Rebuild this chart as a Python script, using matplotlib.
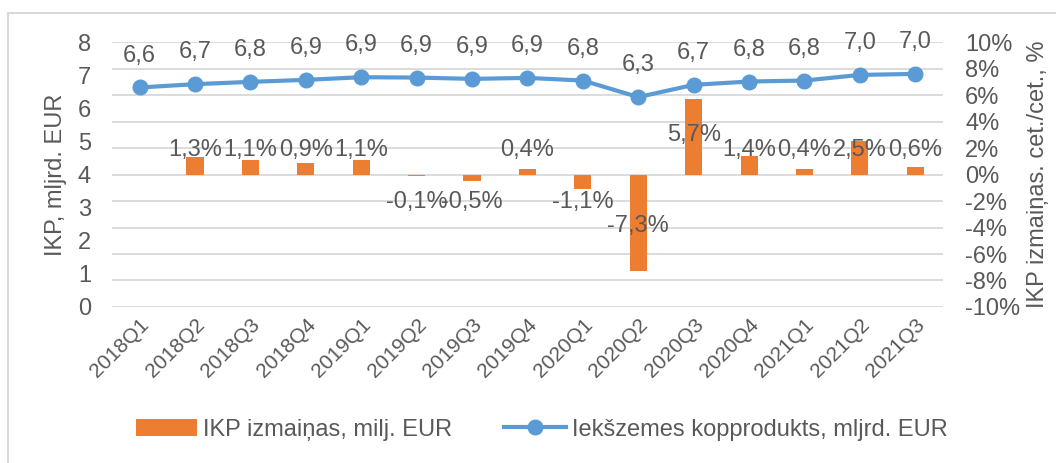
import matplotlib
matplotlib.use("Agg")
import matplotlib.pyplot as plt
import numpy as np
from matplotlib.patches import Rectangle

# ---------- DATA ----------
quarters = ["2018Q1", "2018Q2", "2018Q3", "2018Q4", "2019Q1", "2019Q2", "2019Q3", "2019Q4",
            "2020Q1", "2020Q2", "2020Q3", "2020Q4", "2021Q1", "2021Q2", "2021Q3"]
gdp = [6.63, 6.73, 6.80, 6.86, 6.94, 6.93, 6.89, 6.92, 6.84, 6.34, 6.71, 6.81, 6.84, 7.01, 7.04]
gdp_labels = ["6,6", "6,7", "6,8", "6,9", "6,9", "6,9", "6,9", "6,9",
              "6,8", "6,3", "6,7", "6,8", "6,8", "7,0", "7,0"]
change = [np.nan, 1.3, 1.1, 0.9, 1.1, -0.1, -0.5, 0.4, -1.1, -7.3, 5.7, 1.4, 0.4, 2.5, 0.6]
change_labels = ["", "1,3%", "1,1%", "0,9%", "1,1%", "-0,1%", "-0,5%", "0,4%",
                 "-1,1%", "-7,3%", "5,7%", "1,4%", "0,4%", "2,5%", "0,6%"]
# where the % labels sit on the right axis (as placed in the source chart)
change_label_y = [0, 1.85, 1.85, 1.85, 1.85, -2.05, -2.05, 1.85,
                  -2.05, -3.9, 3.0, 1.85, 1.85, 1.85, 1.85]

ORANGE = "#ED7D31"
BLUE = "#5B9BD5"
TXT = "#595959"
GRID = "#D9D9D9"
FS = 17

plt.rcParams["font.family"] = ["Liberation Sans", "DejaVu Sans"]
plt.rcParams["text.color"] = TXT

fig = plt.figure(figsize=(10.56, 4.63), dpi=100)
ax = fig.add_axes([0.106, 0.337, 0.787, 0.572])
ax2 = ax.twinx()

x = np.arange(len(quarters))

# bars on the right (%) axis
ax2.bar(x, change, width=0.31, color=ORANGE, zorder=2, label="IKP izmaiņas, milj. EUR")
ax2.set_ylim(-10, 10)
ax2.set_yticks(np.arange(-10, 11, 2))
ax2.set_yticklabels([f"{v}%" for v in range(-10, 11, 2)])
for xi, lab, ly in zip(x, change_labels, change_label_y):
    if lab:
        ax2.text(xi, ly, lab, ha="center", va="center", fontsize=FS, color=TXT, zorder=5)

# line on left axis, drawn above bars
ax.set_zorder(ax2.get_zorder() + 1)
ax.patch.set_visible(False)
ax.plot(x, gdp, color=BLUE, lw=3, marker="o", ms=10.5, zorder=3,
        label="Iekšzemes kopprodukts, mljrd. EUR")
for xi, v, lab in zip(x, gdp, gdp_labels):
    ax.annotate(lab, (xi, v), xytext=(0, 23), textcoords="offset points",
                ha="center", va="center", fontsize=FS, color=TXT)
ax.set_ylim(0, 8)
ax.set_yticks(range(0, 9))
ax.set_xlim(-0.5, len(quarters) - 0.5)
ax.set_xticks(x)
ax.set_xticklabels(quarters, rotation=45, ha="right", rotation_mode="anchor")

ax2.grid(axis="y", color=GRID, lw=1.3, zorder=0)
ax2.set_axisbelow(True)

for a in (ax, ax2):
    for s in a.spines.values():
        s.set_visible(False)
    a.tick_params(length=0, colors=TXT, labelsize=FS)
ax.tick_params(axis="x", labelsize=15, pad=6)
ax.tick_params(axis="y", pad=15)
ax2.tick_params(axis="y", pad=16)

ax.set_ylabel("IKP, mljrd. EUR", fontsize=FS, color=TXT, labelpad=8)
ax2.set_ylabel("IKP izmaiņas. cet./cet., %", fontsize=FS, color=TXT, labelpad=5)

h1, l1 = ax2.get_legend_handles_labels()
h2, l2 = ax.get_legend_handles_labels()
fig.legend(h1 + h2, l1 + l2, loc="center", bbox_to_anchor=(0.513, 0.072), ncol=2,
           frameon=False, fontsize=FS, handlelength=2.6, handletextpad=0.25,
           columnspacing=2.2, labelcolor=TXT)

# chart border
fig.patches.append(Rectangle((8 / 1056, -0.1), 1.2, 1 - 13 / 463 + 0.1, transform=fig.transFigure,
                             fill=False, edgecolor=GRID, lw=1.5))

fig.savefig("out.png", dpi=100)
